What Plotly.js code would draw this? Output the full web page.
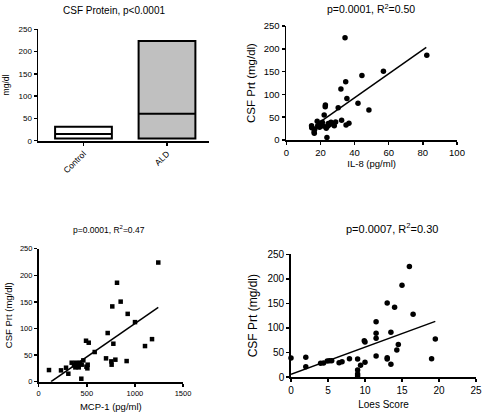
<!DOCTYPE html>
<html>
<head>
<meta charset="utf-8">
<script src="https://cdn.plot.ly/plotly-3.0.1.min.js"></script>
<style>html,body{margin:0;padding:0;background:#fff}#chart{width:484px;height:412px}</style>
</head>
<body>
<div id="chart"></div>
<script>
// Panel A: floating bars (min-max with median)
var groups = ["Control", "ALD"];
var groupMin = [5, 5];
var groupMax = [31.5, 224];
var groupMedian = [15, 60.5];

// Panel B: IL-8 vs CSF protein
var il8X = [34.4, 82.3, 56.9, 44.3, 34.8, 32.0, 35.5, 42.0, 48.4, 30.4, 22.9, 22.8, 22.2, 32.4, 36.7, 35.0,
            18.1, 14.8, 14.9, 16.7, 16.3, 16.4, 23.8, 18.4, 20.1, 21.1, 21.7, 23.4, 24.2, 25.2, 26.2, 27.1, 28.1, 28.9, 19.5, 24.6];
var il8Y = [224, 186, 150.5, 141.5, 127.5, 112, 91, 80.4, 66, 70.5, 76.5, 73, 55, 43.1, 37, 32.9,
            40.9, 31, 27, 24, 18.3, 14.6, 5.5, 31.4, 35.1, 38.7, 30.7, 25.6, 30, 33.6, 38.7, 35.8, 31.4, 39.5, 28, 36];
var il8FitX = [20.3, 82];
var il8FitY = [41, 203];

// Panel C: MCP-1 vs CSF protein
var mcpX = [1243, 814, 852, 765, 925, 1001, 717, 492, 520, 776, 1178, 1105, 582, 700, 797, 755, 758, 914,
            509, 506, 496, 464, 107, 232, 284, 308, 443, 343, 367, 388, 409, 430, 381, 416, 447];
var mcpY = [224, 186, 150.5, 141.5, 127.5, 112, 91.5, 77, 73.3, 71.4, 80, 67, 55.8, 43.9, 41.4, 38.2, 32, 38.8,
            32, 25.1, 28.2, 40.1, 21.9, 21.3, 26.3, 15, 5.6, 35.7, 30.7, 35.7, 30.7, 35.7, 26.9, 26.9, 32];
var mcpFitX = [128, 1243];
var mcpFitY = [0, 139.7];

// Panel D: Loes score vs CSF protein
var loesX = [0, 2, 2, 4, 4.4, 4.9, 5.2, 5.5, 6.5, 6.9, 7.9, 9, 9, 9, 9, 9.4, 10, 9.9, 10,
             11.5, 11.5, 11.5, 11.5, 13, 13, 13, 14, 13.5, 13.5, 14.3, 14.5, 15, 16, 16.5, 19, 19.5];
var loesY = [38.7, 40, 21, 28, 28.5, 32.6, 33.3, 33.3, 29.2, 31.3, 37.4, 36.7, 14.3, 6, 2, 23.8, 29.9, 74, 71.3,
             89, 79, 112.8, 42.8, 151, 39.4, 36.7, 142, 91, 25.8, 55, 66, 187, 225, 127.7, 37.4, 77.4];
var loesFitX = [0, 19.5];
var loesFitY = [5.4, 113.4];

var FONT = "Arial, 'Liberation Sans', sans-serif";
var black = "#000000";

function axisBase(extra) {
  var a = {
    showline: true, linecolor: black, linewidth: 1.8,
    ticks: "outside", ticklen: 3, tickwidth: 1.5, tickcolor: black,
    showgrid: false, zeroline: false, fixedrange: true,
    tickfont: {family: FONT, size: 8, color: black},
    automargin: false
  };
  for (var k in extra) a[k] = extra[k];
  return a;
}
function tf(s) { return {family: FONT, size: s, color: black}; }

var traces = [];

// Panel A bars
traces.push({
  type: "bar", x: [0, 1], base: groupMin,
  y: groupMax.map(function (v, i) { return v - groupMin[i]; }),
  width: [0.68, 0.68],
  marker: {color: ["#ffffff", "#c0c0c0"], line: {color: black, width: 2}},
  xaxis: "x", yaxis: "y", hoverinfo: "skip", showlegend: false
});
// medians
groups.forEach(function (g, i) {
  traces.push({
    type: "scatter", mode: "lines",
    x: [i - 0.34, i + 0.34], y: [groupMedian[i], groupMedian[i]],
    line: {color: black, width: 2},
    xaxis: "x", yaxis: "y", hoverinfo: "skip", showlegend: false
  });
});

function scatterPanel(xs, ys, fx, fy, ax, ay, sym, size) {
  traces.push({
    type: "scatter", mode: "markers", x: xs, y: ys,
    marker: {color: black, size: size, symbol: sym},
    cliponaxis: false,
    xaxis: ax, yaxis: ay, showlegend: false
  });
  traces.push({
    type: "scatter", mode: "lines", x: fx, y: fy,
    line: {color: black, width: 1.5},
    xaxis: ax, yaxis: ay, hoverinfo: "skip", showlegend: false
  });
}
scatterPanel(il8X, il8Y, il8FitX, il8FitY, "x2", "y2", "circle", 5.5);
scatterPanel(mcpX, mcpY, mcpFitX, mcpFitY, "x3", "y3", "square", 4.5);
scatterPanel(loesX, loesY, loesFitX, loesFitY, "x4", "y4", "circle", 5.5);

function dom(p0, p1, total) { return [p0 / total, p1 / total]; }
function ydom(top, bottom) { return [1 - bottom / 412, 1 - top / 412]; }

var layout = {
  width: 484, height: 412,
  margin: {l: 0, r: 0, t: 0, b: 0},
  paper_bgcolor: "#ffffff", plot_bgcolor: "rgba(0,0,0,0)",
  font: {family: FONT, color: black},
  showlegend: false,
  bargap: 0,
  xaxis: axisBase({
    domain: dom(38.3, 209, 484), range: [-0.541, 1.503],
    tickmode: "array", tickvals: [0, 1], ticktext: groups, tickangle: -45,
    tickfont: tf(8.5), anchor: "y"
  }),
  yaxis: axisBase({
    domain: ydom(29.3, 140.7), range: [0, 250], tickvals: [0, 50, 100, 150, 200, 250],
    anchor: "x", tickfont: tf(8),
    title: {text: "mg/dl", font: tf(8.5), standoff: 7}
  }),
  xaxis2: axisBase({
    domain: dom(286.3, 457, 484), range: [0, 100], tickvals: [0, 20, 40, 60, 80, 100],
    anchor: "y2", tickfont: tf(9.5),
    title: {text: "IL-8 (pg/ml)", font: tf(9.5), standoff: 3}
  }),
  yaxis2: axisBase({
    domain: ydom(26, 140), range: [0, 250], tickvals: [0, 50, 100, 150, 200, 250],
    anchor: "x2", tickfont: tf(9.5),
    title: {text: "CSF Prt (mg/dl)", font: tf(11.5), standoff: 6}
  }),
  xaxis3: axisBase({
    domain: dom(38.7, 183, 484), range: [0, 1500], tickvals: [0, 500, 1000, 1500],
    anchor: "y3", tickfont: tf(7.5),
    title: {text: "MCP-1 (pg/ml)", font: tf(9.5), standoff: 8}
  }),
  yaxis3: axisBase({
    domain: ydom(248.7, 381.7), range: [0, 250], tickvals: [0, 50, 100, 150, 200, 250],
    anchor: "x3", tickfont: tf(7.5),
    title: {text: "CSF Prt (mg/dl)", font: tf(9.5), standoff: 5}
  }),
  xaxis4: axisBase({
    domain: dom(291, 476, 484), range: [0, 25], tickvals: [0, 5, 10, 15, 20, 25],
    anchor: "y4", tickfont: tf(10),
    title: {text: "Loes Score", font: tf(10), standoff: 6}
  }),
  yaxis4: axisBase({
    domain: ydom(254.3, 377), range: [0, 250], tickvals: [0, 50, 100, 150, 200, 250],
    anchor: "x4", tickfont: tf(10),
    title: {text: "CSF Prt (mg/dl)", font: tf(12), standoff: 7}
  }),
  annotations: [
    {text: "CSF Protein, p<0.0001", x: 114 / 484, y: 1 - 11 / 412, xref: "paper", yref: "paper",
     showarrow: false, xanchor: "center", yanchor: "middle", font: tf(10)},
    {text: "p=0.0001, R<sup>2</sup>=0.50", x: 371 / 484, y: 1 - 9 / 412, xref: "paper", yref: "paper",
     showarrow: false, xanchor: "center", yanchor: "middle", font: tf(10.5)},
    {text: "p=0.0001, R<sup>2</sup>=0.47", x: 109 / 484, y: 1 - 229 / 412, xref: "paper", yref: "paper",
     showarrow: false, xanchor: "center", yanchor: "middle", font: tf(8.5)},
    {text: "p=0.0007, R<sup>2</sup>=0.30", x: 392 / 484, y: 1 - 228 / 412, xref: "paper", yref: "paper",
     showarrow: false, xanchor: "center", yanchor: "middle", font: tf(11)}
  ]
};

Plotly.newPlot("chart", traces, layout, {staticPlot: true, displayModeBar: false});
</script>
</body>
</html>
